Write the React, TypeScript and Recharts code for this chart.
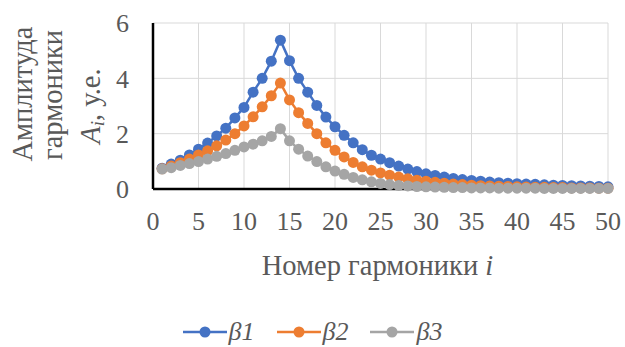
import { LineChart, Line, XAxis, YAxis, CartesianGrid, Legend, Label } from 'recharts';

const FONT = "'Liberation Serif', 'Times New Roman', serif";
const TEXT = '#595959';

// harmonic numbers i
const harmonics = [
  1, 2, 3, 4, 5, 6, 7, 8, 9, 10, 11, 12, 13, 14, 15, 16, 17, 18, 19, 20, 21, 22, 23, 24, 25,
  26, 27, 28, 29, 30, 31, 32, 33, 34, 35, 36, 37, 38, 39, 40, 41, 42, 43, 44, 45, 46, 47, 48, 49, 50,
];

const beta1 = [
  0.75, 0.9, 1.04, 1.23, 1.44, 1.66, 1.92, 2.2, 2.57, 2.95, 3.5, 4.0, 4.62, 5.38, 4.64, 4.0, 3.5, 3.02, 2.6, 2.25,
  1.94, 1.67, 1.42, 1.22, 1.08, 0.95, 0.83, 0.72, 0.63, 0.55, 0.49, 0.43, 0.38, 0.34, 0.31, 0.28, 0.25, 0.23, 0.21, 0.19,
  0.18, 0.17, 0.15, 0.14, 0.13, 0.12, 0.11, 0.1, 0.09, 0.08,
];

const beta2 = [
  0.73, 0.83, 0.95, 1.08, 1.23, 1.38, 1.56, 1.77, 2.0, 2.28, 2.61, 2.97, 3.37, 3.83, 3.22, 2.76, 2.37, 2.0, 1.67, 1.4,
  1.16, 0.96, 0.8, 0.68, 0.58, 0.5, 0.43, 0.37, 0.32, 0.28, 0.24, 0.21, 0.18, 0.16, 0.14, 0.12, 0.11, 0.1, 0.09, 0.08,
  0.07, 0.06, 0.06, 0.05, 0.05, 0.04, 0.04, 0.04, 0.03, 0.03,
];

const beta3 = [
  0.72, 0.77, 0.85, 0.92, 0.99, 1.08, 1.18, 1.28, 1.4, 1.52, 1.62, 1.74, 1.9, 2.18, 1.74, 1.44, 1.19, 0.99, 0.8, 0.65,
  0.53, 0.42, 0.33, 0.26, 0.2, 0.16, 0.13, 0.11, 0.09, 0.08, 0.07, 0.06, 0.05, 0.05, 0.04, 0.04, 0.04, 0.03, 0.03, 0.03,
  0.03, 0.03, 0.02, 0.02, 0.02, 0.02, 0.02, 0.02, 0.02, 0.02,
];

const xTicks = [0, 5, 10, 15, 20, 25, 30, 35, 40, 45, 50];
const yTicks = [0, 2, 4, 6];

const series = [
  { key: 'b1', name: 'β1', color: '#4472C4' },
  { key: 'b2', name: 'β2', color: '#ED7D31' },
  { key: 'b3', name: 'β3', color: '#A5A5A5' },
];

const data = harmonics.map((i, k) => ({ i, b1: beta1[k], b2: beta2[k], b3: beta3[k] }));

// force the serif face everywhere, svg ticks included
const css = `
body { margin: 0; font-family: ${FONT}; }
.recharts-wrapper text, .recharts-wrapper tspan { font-family: ${FONT}; }
`;

const TITLE_SIZE = 28.5;

const LegendContent = () => (
  <div
    style={{
      display: 'flex',
      justifyContent: 'center',
      alignItems: 'center',
      gap: 22,
      paddingTop: 10,
      height: 30,
    }}
  >
    {series.map(s => (
      <div key={s.key} style={{ display: 'flex', alignItems: 'center' }}>
        <svg width={44} height={14}>
          <line x1={0} y1={7} x2={44} y2={7} stroke={s.color} strokeWidth={2.5} />
          <circle cx={22} cy={7} r={5.5} fill={s.color} />
        </svg>
        <span
          style={{
            fontFamily: FONT,
            fontStyle: 'italic',
            fontSize: 26,
            color: TEXT,
            marginLeft: 2,
            lineHeight: '30px',
          }}
        >
          {s.name}
        </span>
      </div>
    ))}
  </div>
);

const YTitle = (props: any) => {
  const { viewBox } = props;
  const cy = viewBox.y + viewBox.height / 2;
  const lines = [
    { x: 32, y: cy - 12 },
    { x: 62, y: cy - 11 },
    { x: 100, y: cy },
  ];
  return (
    <g fill={TEXT} fontFamily={FONT} fontSize={TITLE_SIZE}>
      <text x={lines[0].x} y={lines[0].y} textAnchor="middle" transform={`rotate(-90, ${lines[0].x}, ${lines[0].y})`}>
        Амплитуда
      </text>
      <text x={lines[1].x} y={lines[1].y} textAnchor="middle" transform={`rotate(-90, ${lines[1].x}, ${lines[1].y})`}>
        гармоники
      </text>
      <text x={lines[2].x} y={lines[2].y} textAnchor="middle" transform={`rotate(-90, ${lines[2].x}, ${lines[2].y})`}>
        <tspan fontStyle="italic">A</tspan>
        <tspan fontStyle="italic" fontSize={19} dy={4}>i</tspan>
        <tspan dy={-4}>, у.е.</tspan>
      </text>
    </g>
  );
};

const XTitle = (props: any) => {
  const { viewBox } = props;
  const cx = viewBox.x + viewBox.width / 2 - 3;
  return (
    <text x={cx} y={viewBox.y + 86} textAnchor="middle" fill={TEXT} fontFamily={FONT} fontSize={TITLE_SIZE}>
      Номер гармоники <tspan fontStyle="italic">i</tspan>
    </text>
  );
};

export default function App() {
  return (
    <div>
      <style>{css}</style>
      <LineChart width={625} height={347} data={data} margin={{ top: 23, right: 17, left: 0, bottom: 0 }}>
        <CartesianGrid stroke="#D9D9D9" strokeWidth={1} horizontalValues={yTicks} verticalValues={xTicks} />
        <XAxis
          dataKey="i"
          type="number"
          domain={[0, 50]}
          ticks={xTicks}
          interval={0}
          height={118}
          tickSize={0}
          tickMargin={23}
          tickLine={false}
          axisLine={{ stroke: '#000', strokeWidth: 2.5 }}
          tick={{ fill: TEXT, fontFamily: FONT, fontSize: 26 }}
        >
          <Label content={<XTitle />} />
        </XAxis>
        <YAxis
          type="number"
          domain={[0, 6]}
          ticks={yTicks}
          width={153}
          tickSize={0}
          tickMargin={24}
          tickLine={false}
          axisLine={{ stroke: '#000', strokeWidth: 2.5 }}
          tick={{ fill: TEXT, fontFamily: FONT, fontSize: 26 }}
        >
          <Label content={<YTitle />} />
        </YAxis>
        <Legend verticalAlign="bottom" height={40} wrapperStyle={{ left: 0, width: 625 }} content={<LegendContent />} />
        {series.map(s => (
          <Line
            key={s.key}
            type="linear"
            dataKey={s.key}
            name={s.name}
            stroke={s.color}
            strokeWidth={2.5}
            dot={{ r: 5.5, fill: s.color, stroke: 'none' }}
            activeDot={false}
            isAnimationActive={false}
          />
        ))}
      </LineChart>
    </div>
  );
}
